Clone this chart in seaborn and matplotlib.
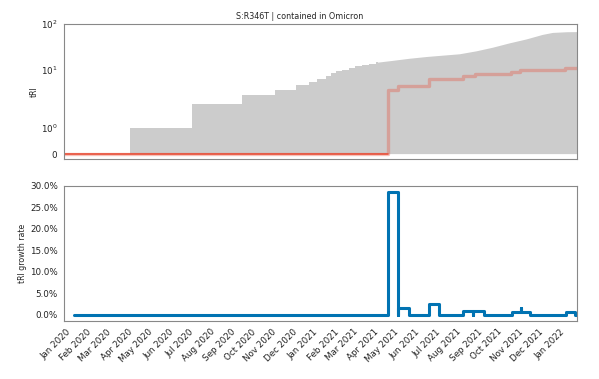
import numpy as np
import pandas as pd
import seaborn as sns
import matplotlib.pyplot as plt
from matplotlib.ticker import PercentFormatter
import matplotlib.dates as mdates

sns.set_style("white")
plt.rcParams["font.family"] = ["DejaVu Sans"]
plt.rcParams["font.size"] = 6.3

TITLE = "S:R346T | contained in Omicron"

# total tRI (grey area), stepped part
total_step_dates = ["2019-12-29", "2020-04-05", "2020-07-06", "2020-09-17", "2020-11-05",
    "2020-12-06", "2020-12-26", "2021-01-06", "2021-01-19", "2021-01-27", "2021-02-03",
    "2021-02-12", "2021-02-22", "2021-03-04", "2021-03-14", "2021-03-24", "2021-04-04",
    "2021-04-06"]
total_step_values = [0, 1, 1.95, 2.85, 3.7, 4.65, 5.55, 6.55, 7.6, 8.65, 9.55,
    10.2, 11.1, 12.0, 12.9, 13.8, 14.7, 14.7]
# total tRI, smooth part
total_smooth_dates = ["2021-04-04", "2021-04-28", "2021-05-23", "2021-06-18", "2021-07-11",
    "2021-08-05", "2021-08-30", "2021-09-23", "2021-10-18", "2021-11-12", "2021-12-06",
    "2021-12-21", "2022-01-11", "2022-01-26"]
total_smooth_values = [14.7, 16.2, 18.0, 19.7, 21.0, 22.5, 26.1, 31.2, 38.8, 47.2, 59.2,
    65.3, 67.6, 68.0]

# tRI of the mutation (red step line)
tri_dates = ["2019-12-29", "2021-04-22", "2021-05-07", "2021-06-21", "2021-08-10",
    "2021-08-28", "2021-10-21", "2021-11-03", "2022-01-09", "2022-01-26"]
tri_values = [0, 3.7, 4.56, 6.35, 7.25, 8.25, 8.95, 9.9, 10.9, 10.9]

# growth rate (blue)
growth_dates = ["2020-01-12", "2021-04-22", "2021-05-06", "2021-05-07", "2021-05-22",
    "2021-06-21", "2021-07-06", "2021-08-11", "2021-08-25", "2021-08-26", "2021-09-11",
    "2021-10-22", "2021-11-04", "2021-11-05", "2021-11-18", "2022-01-10", "2022-01-24",
    "2022-01-26"]
growth_values = [0, 0.286, 0, 0.0155, 0, 0.0255, 0, 0.010, 0.0, 0.010, 0,
    0.0075, 0.0155, 0.0075, 0, 0.0065, 0.0, 0.0]

X_START, X_END = pd.Timestamp("2019-12-29"), pd.Timestamp("2022-01-26")

df_step = pd.DataFrame({"date": pd.to_datetime(total_step_dates), "tri": total_step_values})
df_smooth = pd.DataFrame({"date": pd.to_datetime(total_smooth_dates), "tri": total_smooth_values})
df_tri = pd.DataFrame({"date": pd.to_datetime(tri_dates), "tri": tri_values})
df_growth = pd.DataFrame({"date": pd.to_datetime(growth_dates), "rate": growth_values})

RED = "#e8503a"
BLUE = "#0173b2"
SPINE = "#888888"

fig, (ax1, ax2) = plt.subplots(2, 1, figsize=(5.99, 3.79), dpi=100, sharex=True,
    gridspec_kw=dict(left=.107, right=.963, top=.937, bottom=.153, hspace=.195))

# ---- top: tRI
ax1.fill_between(df_step["date"], 0, df_step["tri"], step="post", color="#cccccc", lw=0)
ax1.fill_between(df_smooth["date"], 0, df_smooth["tri"], color="#cccccc", lw=0)
sns.lineplot(data=df_tri, x="date", y="tri", color=RED, alpha=.35, lw=2.4,
    drawstyle="steps-post", ax=ax1)
zero_part = df_tri.iloc[:2].copy()
zero_part["tri"] = 0
sns.lineplot(data=zero_part, x="date", y="tri", color=RED, lw=1.2, ax=ax1)
ax1.set_yscale("symlog", linthresh=2)
ax1.set_yticks([0, 1, 10, 100])
ax1.yaxis.set_minor_locator(plt.NullLocator())
ax1.set_ylim(-.22, 100)
ax1.set_ylabel("tRI", fontsize=5.7, labelpad=2)
ax1.set_xlabel("")

# ---- bottom: growth rate
sns.lineplot(data=df_growth, x="date", y="rate", color=BLUE, lw=2.2,
    drawstyle="steps-post", ax=ax2)
ax2.yaxis.set_major_formatter(PercentFormatter(1.0, decimals=1))
ax2.set_ylabel("tRI growth rate", fontsize=5.7, labelpad=2)
ax2.set_xlabel("")

ax2.set_xlim(X_START, X_END)
ax2.xaxis.set_major_locator(mdates.MonthLocator())
ax2.xaxis.set_major_formatter(mdates.DateFormatter("%b %Y"))
plt.setp(ax2.get_xticklabels(), rotation=45, ha="right", rotation_mode="anchor")

for ax in (ax1, ax2):
    for sp in ax.spines.values():
        sp.set_color(SPINE)
        sp.set_linewidth(.8)
    ax.tick_params(length=2.5, width=.6, color=SPINE, pad=2, labelcolor="#222222")

fig.suptitle(TITLE, y=.968, fontsize=5.8)

plt.savefig("out.png", dpi=100)
plt.close()
